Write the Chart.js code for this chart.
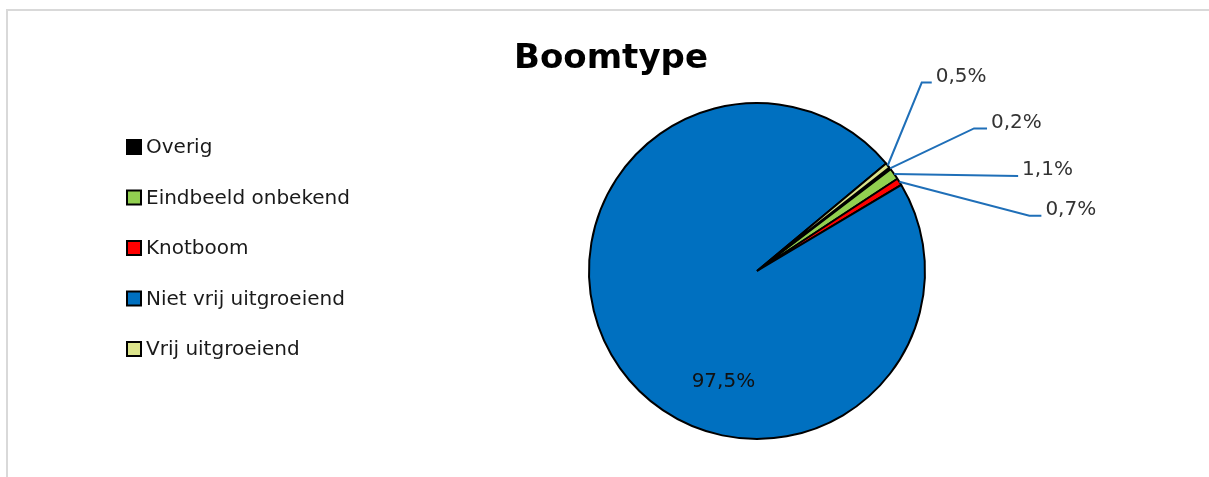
<!DOCTYPE html>
<html>
<head>
<meta charset="utf-8">
<script src="https://cdn.jsdelivr.net/npm/chart.js@4.4.1/dist/chart.umd.min.js"></script>
<style>
html,body{margin:0;padding:0;background:#fff}
#wrap{position:relative;width:1209px;height:477px}
</style>
</head>
<body>
<div id="wrap"><canvas id="c" width="1209" height="477"></canvas></div>
<script>
// Boomtype verdeling
const titleText='Boomtype';
const labels=['Overig','Eindbeeld onbekend','Knotboom','Niet vrij uitgroeiend','Vrij uitgroeiend'];
const values=[0.2,1.1,0.7,97.5,0.5];
const colors=['#000000','#92D050','#FF0000','#0070C0','#DCE48C'];

const fmt=v=>v.toFixed(1).replace('.',',')+'%';
const FONT='"DejaVu Sans", sans-serif';

// leader-line callouts (offset van buitenrand naar knik, horizontale staart)
const callouts={4:{dx:34,dy:-83,h:10},0:{dx:84,dy:-40,h:13},1:{dx:124,dy:2,h:0},2:{dx:130,dy:34,h:12}};
const inside={3:{fx:-0.2,fy:0.66}};

const deco={id:'deco',
  beforeDraw(ch){
    const c=ch.ctx;
    c.save();
    c.strokeStyle='#d9d9d9';c.lineWidth=2;
    c.beginPath();c.moveTo(7,477);c.lineTo(7,10);c.lineTo(1209,10);c.stroke();
    c.restore();
  },
  afterDatasetsDraw(ch){
    const c=ch.ctx,meta=ch.getDatasetMeta(0);
    c.save();
    c.font='20px '+FONT;c.textBaseline='middle';c.textAlign='left';
    meta.data.forEach((el,i)=>{
      const p=el.getProps(['x','y','startAngle','endAngle','outerRadius'],true);
      const mid=(p.startAngle+p.endAngle)/2;
      const ax=p.x+Math.cos(mid)*p.outerRadius, ay=p.y+Math.sin(mid)*p.outerRadius;
      const txt=fmt(values[i]);
      if(callouts[i]){
        const o=callouts[i],ex=ax+o.dx,ey=ay+o.dy;
        c.strokeStyle='#1F6FB8';c.lineWidth=2;
        c.beginPath();c.moveTo(ax,ay);c.lineTo(ex,ey);c.lineTo(ex+o.h,ey);c.stroke();
        c.fillStyle='#333333';
        c.fillText(txt,ex+o.h+4,ey-6);
      }else if(inside[i]){
        const o=inside[i];
        c.fillStyle='#111111';c.textAlign='center';
        c.fillText(txt,p.x+o.fx*p.outerRadius,p.y+o.fy*p.outerRadius);
        c.textAlign='left';
      }
    });
    c.restore();
  },
  afterDraw(ch){
    const c=ch.ctx;
    c.save();
    c.fillStyle='#000';c.font='bold 34px '+FONT;c.textAlign='center';c.textBaseline='alphabetic';
    c.fillText(titleText,611,68);
    c.font='20px '+FONT;c.textAlign='left';c.textBaseline='middle';
    labels.forEach((l,i)=>{
      const y=147+i*50.5;
      c.fillStyle=colors[i];c.fillRect(127,y-7,14,14);
      c.strokeStyle='#000';c.lineWidth=2;c.strokeRect(127,y-7,14,14);
      c.fillStyle='#1a1a1a';c.fillText(l,146,y+1);
    });
    c.restore();
  }
};

new Chart(document.getElementById('c'),{type:'pie',
  data:{labels:labels,datasets:[{data:values,backgroundColor:colors,borderColor:'#000',borderWidth:2}]},
  options:{responsive:false,animation:false,devicePixelRatio:1,rotation:52,
    layout:{padding:{left:588,right:283,top:102,bottom:37}},
    plugins:{legend:{display:false},tooltip:{enabled:false}}},
  plugins:[deco]
});
</script>
</body>
</html>
